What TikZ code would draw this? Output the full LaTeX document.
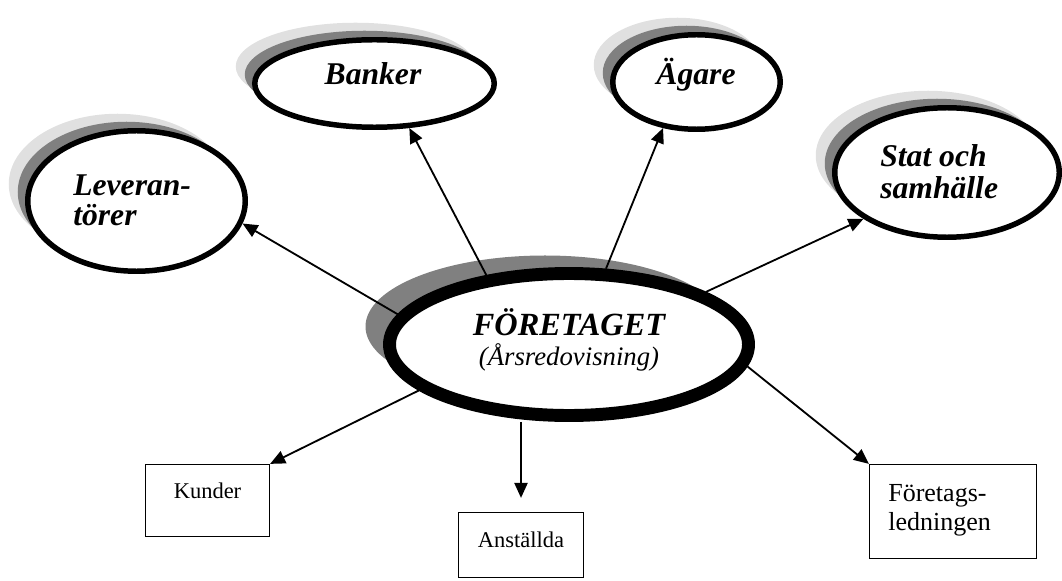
\documentclass[tikz,border=0pt]{standalone}
\usepackage{fontspec}
\setmainfont{Liberation Serif}
\usepackage{tikz}
\usetikzlibrary{shapes.geometric, shadows, arrows.meta}
\newcommand{\pxunit}{0.025cm}

\begin{document}
\begin{tikzpicture}
\useasboundingbox (0,0) rectangle (1062*\pxunit,580*\pxunit);
\tikzstyle{every node}=[inner sep=0pt]
\tikzstyle{party}=[draw, ellipse, fill=white, line width=3.9pt,
			general shadow={fill=black!12, shadow xshift=-0.475cm, shadow yshift=0.425cm},
			general shadow={fill=black!50, shadow xshift=-0.25cm, shadow yshift=0.225cm}
			]
\tikzstyle{firmstyle}=[draw, ellipse, fill=white, line width=9.2pt,
			general shadow={fill=black!50, shadow xshift=-0.6cm, shadow yshift=0.45cm}
			]
\tikzstyle{box}=[draw, rectangle, line width=0.9pt]
\tikzstyle{lbl}=[font=\fontsize{22.5}{26}\selectfont\bfseries\itshape]
\tikzstyle{boxlbl}=[font=\fontsize{16}{19}\selectfont]
\tikzstyle{arr}=[line width=1.3pt, -{Triangle[length=0.375cm, width=0.33cm]}]


\node[firmstyle, minimum width=359*\pxunit, minimum height=142*\pxunit] (firm) at (569*\pxunit,235.5*\pxunit) {};


\node[party, minimum width=217.5*\pxunit, minimum height=140.5*\pxunit] (lev) at (136.5*\pxunit,379*\pxunit) {};


\node[party, minimum width=239.5*\pxunit, minimum height=87.5*\pxunit] (banker) at (374.5*\pxunit,496.5*\pxunit) {};


\node[party, minimum width=167.5*\pxunit, minimum height=94.5*\pxunit] (agare) at (696.5*\pxunit,498*\pxunit) {};


\node[party, minimum width=224.5*\pxunit, minimum height=129.5*\pxunit] (stat) at (947*\pxunit,407.5*\pxunit) {};


\node[box, minimum width=124*\pxunit, minimum height=72*\pxunit] (kunder) at (207.5*\pxunit,79.5*\pxunit) {};


\node[box, minimum width=125*\pxunit, minimum height=65*\pxunit] (anst) at (521*\pxunit,35*\pxunit) {};


\node[box, minimum width=167*\pxunit, minimum height=94*\pxunit] (ledn) at (953*\pxunit,68.5*\pxunit) {};


% texts
\node[font=\fontsize{23}{27}\selectfont\bfseries\itshape, anchor=base] (firmname) at (569*\pxunit,245*\pxunit) {FÖRETAGET};
\node[font=\fontsize{19}{22}\selectfont\itshape, anchor=base] (firmsub) at (569*\pxunit,215*\pxunit) {(Årsredovisning)};
\node[lbl, anchor=base west] (levtop) at (73*\pxunit,384.5*\pxunit) {Leveran-};
\node[lbl, anchor=base west] (levbot) at (73*\pxunit,354*\pxunit) {törer};
\node[lbl, anchor=base] (bankertxt) at (373*\pxunit,495*\pxunit) {Banker};
\node[lbl, anchor=base] (agaretxt) at (696*\pxunit,495*\pxunit) {Ägare};
\node[lbl, anchor=base west] (stattop) at (880*\pxunit,413*\pxunit) {Stat och};
\node[lbl, anchor=base west] (statbot) at (880*\pxunit,381*\pxunit) {samhälle};
\node[boxlbl, anchor=base] (kundertxt) at (207.5*\pxunit,82*\pxunit) {Kunder};
\node[boxlbl, anchor=base] (ansttxt) at (521*\pxunit,33*\pxunit) {Anställda};
\node[boxlbl, font=\fontsize{18.5}{21}\selectfont, anchor=base west] (ledntop) at (888*\pxunit,79*\pxunit) {Företags-};
\node[boxlbl, font=\fontsize{18.5}{21}\selectfont, anchor=base west] (lednbot) at (888*\pxunit,50*\pxunit) {ledningen};


% arrows
\draw[arr] (firm.170) -- (lev.-12);
\draw[arr] (firm.140) -- (banker.-52);
\draw[arr] (firm.64) -- (agare.-126);
\draw[arr] (firm.21) -- (stat.-151);
\draw[arr] (firm.-163) -- (kunder.north east);
\draw[arr] (firm.south -| anst.north) -- ([yshift=0.35cm]anst.north);
\draw[arr] (firm.-7.5) -- (ledn.north west);

\end{tikzpicture}
\end{document}
